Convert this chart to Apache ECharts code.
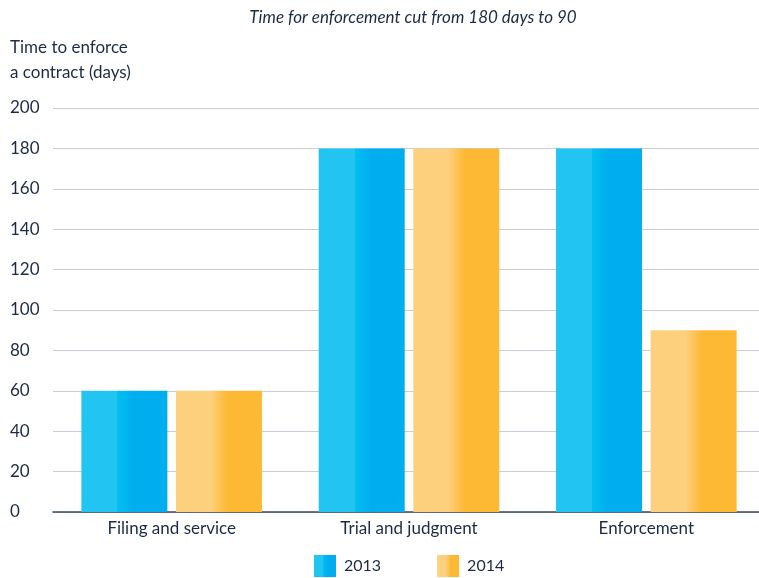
<!DOCTYPE html>
<html>
<head>
<meta charset="utf-8">
<script src="https://cdn.jsdelivr.net/npm/echarts@6/dist/echarts.min.js"></script>
<style>
  html, body { margin: 0; padding: 0; background: #fff; overflow: hidden; }
  /* a bit wider than the window: the plot runs off the right edge in the original */
  #chart { width: 770px; height: 578px; }
</style>
</head>
<body>
<div id="chart"></div>
<script>
// data
var categories = ['Filing and service', 'Trial and judgment', 'Enforcement'];
var values2013 = [60, 180, 180];
var values2014 = [60, 180, 90];
var yTicks = [0, 20, 40, 60, 80, 100, 120, 140, 160, 180, 200];

var textColor = '#1c2b45';
var fontFamily = 'Lato, "Open Sans", sans-serif';

// two tone bar fill, light half on the left
function twoTone(light, mid, dark) {
    return new echarts.graphic.LinearGradient(0, 0, 1, 0, [
        { offset: 0, color: light },
        { offset: 0.42, color: light },
        { offset: 0.42, color: mid },
        { offset: 0.6, color: dark },
        { offset: 1, color: dark }
    ]);
}
var blue = twoTone('#22c4f2', '#02c0f0', '#00aeef');
var orange = twoTone('#fdd07e', '#fdcd78', '#fdb933');

var myChart = echarts.init(document.getElementById('chart'));
myChart.setOption({
    animation: false,
    textStyle: { fontFamily: fontFamily },
    title: {
        text: 'Time for enforcement cut from 180 days to 90',
        left: 408,
        textAlign: 'center',
        top: 4,
        textStyle: {
            fontStyle: 'italic',
            fontWeight: 'normal',
            fontSize: 17,
            color: textColor,
            fontFamily: fontFamily
        }
    },
    legend: {
        bottom: 1,
        left: 314,
        padding: 0,
        icon: 'rect',
        itemWidth: 22,
        itemHeight: 22,
        itemGap: 56,
        textStyle: { fontSize: 16, color: textColor, padding: [2, 0, 0, 3] },
        data: ['2013', '2014']
    },
    grid: {
        left: 53,
        width: 712,
        top: 108,
        bottom: 66,
        containLabel: false
    },
    xAxis: {
        type: 'category',
        data: categories,
        axisTick: { show: false },
        axisLine: { lineStyle: { color: '#3b4a5e', width: 1.5 } },
        axisLabel: { color: textColor, fontSize: 17, margin: 8 }
    },
    yAxis: {
        type: 'value',
        min: yTicks[0],
        max: yTicks[yTicks.length - 1],
        interval: yTicks[1] - yTicks[0],
        name: 'Time to enforce\na contract (days)',
        nameLocation: 'end',
        nameGap: 23,
        nameTextStyle: {
            align: 'left',
            color: textColor,
            fontSize: 17,
            lineHeight: 25,
            padding: [0, 0, 0, -43]
        },
        axisLine: { show: false },
        axisTick: { show: false },
        axisLabel: {
            color: textColor,
            fontSize: 17,
            align: 'left',
            margin: 43
        },
        splitLine: { lineStyle: { color: '#c9ced6', width: 1 } }
    },
    series: [
        {
            name: '2013',
            type: 'bar',
            data: values2013,
            barWidth: 86,
            barGap: '10%',
            itemStyle: { color: blue }
        },
        {
            name: '2014',
            type: 'bar',
            data: values2014,
            barWidth: 86,
            barGap: '10%',
            itemStyle: { color: orange }
        }
    ]
});
</script>
</body>
</html>
